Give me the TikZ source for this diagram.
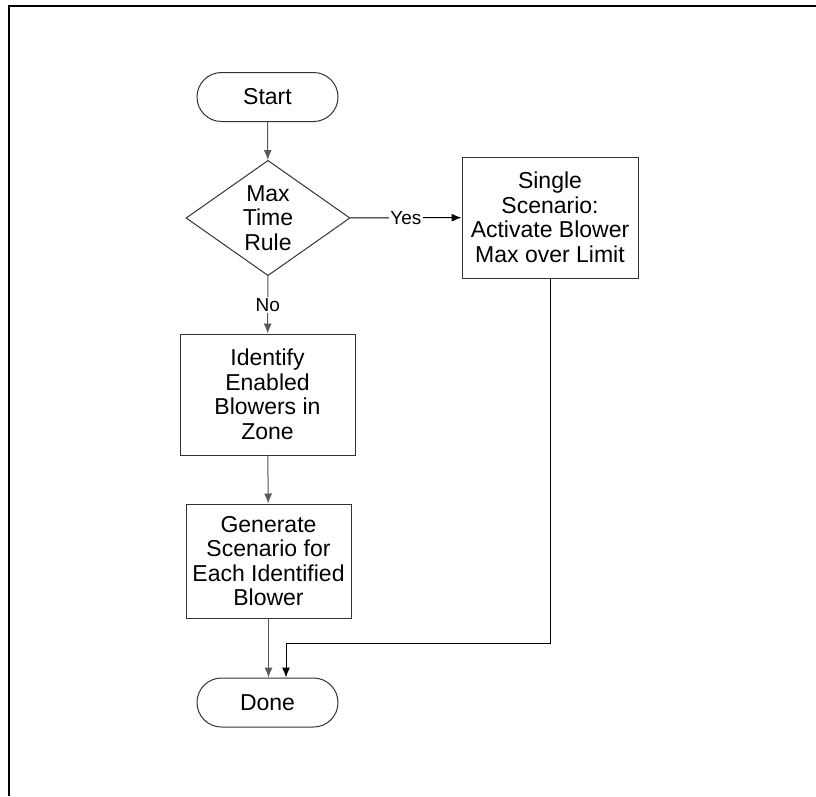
\documentclass[tikz,border=0pt]{standalone}
\usepackage{fontspec}
\setmainfont{Liberation Sans}
\usetikzlibrary{shapes.geometric,shapes.misc,arrows.meta}

\begin{document}
\begin{tikzpicture}[x=1pt, y=-1pt,
        every node/.style={font=\fontsize{23}{24.5}\selectfont, align=center, inner sep=0pt},
        terminal/.style={rounded rectangle, draw=black!80, line width=1pt, minimum width=141pt, minimum height=49pt},
        process/.style={rectangle, draw=black!80, line width=1pt},
        decision/.style={diamond, draw=black!80, line width=1pt, minimum width=164pt, minimum height=114pt},
        flow/.style={line width=1pt, -{Latex[length=10pt,width=8pt]}},
        answer/.style={font=\fontsize{19}{21}\selectfont, text=black, fill=white, inner sep=1.5pt}]
    \useasboundingbox (0,0) rectangle (816,796);
    \draw [line width=2pt] (816,6) -- (9,6) -- (9,796);

    \node [terminal] (start) at (267.5,97) {Start};
    \node [decision] (rule) at (268,218) {Max\\Time\\Rule};
    \node [process, minimum width=176pt, minimum height=121pt] (single) at (550,217.5) {Single\\Scenario:\\Activate Blower\\Max over Limit};
    \node [process, minimum width=175pt, minimum height=121pt] (identify) at (267.5,394.5) {Identify\\Enabled\\Blowers in\\Zone};
    \node [process, minimum width=165pt, minimum height=114pt] (generate) at (268.5,561) {Generate\\Scenario for\\Each Identified\\Blower};
    \node [terminal] (done) at (267.5,702.5) {Done};
    \coordinate (join) at (286,643);

    \draw [flow, draw=black!65, fill=black!65] (start) -- (rule);
    \draw [flow] (rule) -- node [answer] {Yes} (single);
    \draw [flow, draw=black!65, fill=black!65] (rule) -- node [answer] {No} (identify);
    \draw [flow, draw=black!65, fill=black!65] (identify) -- (generate);
    \draw [flow, draw=black!65, fill=black!65] (generate.south) -- (generate.south |- done.north);
    \draw [flow] (single.south) |- (join) -- (join |- done.north);
\end{tikzpicture}
\end{document}
